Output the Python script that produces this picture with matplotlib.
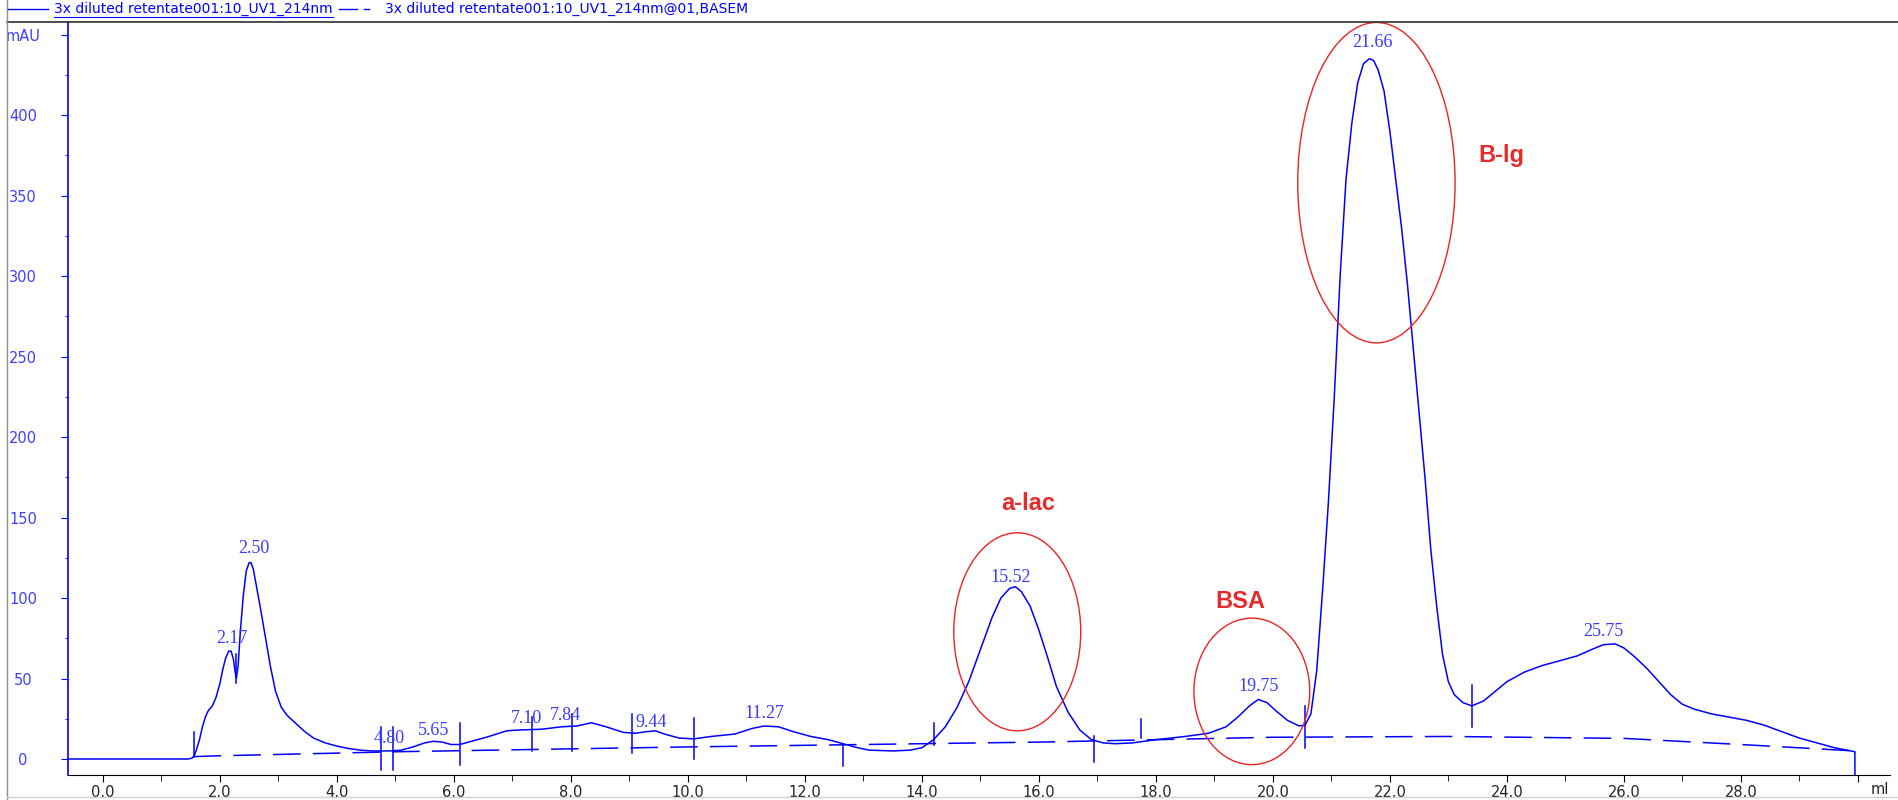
import matplotlib.pyplot as plt
from matplotlib.patches import Ellipse
from matplotlib.lines import Line2D

# UV 214 nm trace (ml, mAU)
volume = [-0.6, 1.45, 1.52, 1.56, 1.60, 1.65, 1.70, 1.75, 1.80, 1.87, 1.93, 2.00,
          2.05, 2.10, 2.15, 2.19, 2.23, 2.26, 2.28, 2.31, 2.35, 2.40, 2.45, 2.50,
          2.53, 2.57, 2.62, 2.70, 2.78, 2.86, 2.95, 3.05, 3.15, 3.30, 3.45, 3.60,
          3.80, 4.00, 4.20, 4.40, 4.60, 4.90, 5.10, 5.30, 5.50, 5.65, 5.80, 5.95,
          6.10, 6.30, 6.60, 6.90, 7.10, 7.50, 7.84, 8.10, 8.35, 8.60, 8.90, 9.10,
          9.30, 9.44, 9.60, 9.85, 10.1, 10.4, 10.8, 11.1, 11.3, 11.55, 11.8, 12.1,
          12.4, 12.7, 12.9, 13.1, 13.5, 13.8, 14.0, 14.2, 14.4, 14.6, 14.8, 15.0,
          15.2, 15.35, 15.5, 15.6, 15.7, 15.85, 16.0, 16.15, 16.3, 16.5, 16.7, 16.9,
          17.1, 17.3, 17.6, 18.0, 18.5, 18.9, 19.2, 19.4, 19.6, 19.75, 19.9, 20.05,
          20.25, 20.45, 20.55, 20.65, 20.75, 20.85, 20.95, 21.05, 21.15, 21.25, 21.35,
          21.45, 21.55, 21.65, 21.72, 21.8, 21.9, 22.0, 22.1, 22.2, 22.3, 22.4,
          22.5, 22.6, 22.7, 22.8, 22.9, 23.0, 23.1, 23.25, 23.4, 23.6, 23.8, 24.0,
          24.3, 24.6, 24.9, 25.2, 25.45, 25.65, 25.85, 26.0, 26.2, 26.4, 26.6, 26.8,
          27.0, 27.2, 27.5, 27.8, 28.1, 28.4, 28.7, 29.0, 29.3, 29.6, 29.95, 29.95]
absorb = [0, 0, 0.5, 2, 6, 12, 20, 26, 30, 33, 38, 47,
          56, 63, 67, 67, 62, 54, 50, 58, 80, 102, 117, 122,
          122, 118, 108, 92, 75, 58, 42, 32, 27, 22, 17, 13,
          10, 8, 6.5, 5.5, 5, 5, 5.5, 7.5, 10, 11, 10.5, 9,
          9, 11, 14, 17.5, 18, 18.5, 20, 20.5, 22.5, 20, 16.5, 16,
          17, 17.5, 15.5, 13, 12.5, 14, 15.5, 19, 20.5, 20, 17, 14,
          12, 9, 7, 5.5, 5, 5.5, 7, 12, 20, 32, 48, 68,
          88, 100, 106, 107, 104, 95, 80, 63, 45, 29, 18, 12,
          10, 9.5, 10, 12, 14, 16, 20, 26, 33, 37, 35, 30,
          24, 20.5, 21, 28, 55, 105, 160, 225, 300, 360, 395,
          420, 432, 435, 434, 428, 415, 390, 360, 330, 295, 255,
          215, 175, 130, 95, 65, 48, 40, 35, 33, 36, 42, 48,
          54, 58, 61, 64, 68, 71, 71.5, 69, 63, 56, 48, 40,
          34, 31, 28, 26, 24, 21, 17, 13, 10, 7, 4.5, -10]

# integration baseline (dashed)
base_vol = [1.55, 2.0, 5.0, 10.0, 16.0, 20.0, 23.0, 26.0, 28.0, 29.95]
base_abs = [1.5, 2, 4.5, 7.5, 10.5, 13.5, 14, 12.8, 9, 5]

# peak delimiter marks: (ml, low, high)
marks = [(1.55, 1.5, 16.5), (2.27, 47, 65), (4.75, -7, 20), (4.95, -7, 20),
         (6.10, -4, 22.5), (7.33, 5, 26), (8.02, 5, 28), (9.05, 4, 28),
         (10.1, 0, 25.5), (12.65, -4.5, 9), (14.2, 9, 22.5), (16.95, -2, 14),
         (17.75, 13, 25), (20.55, 7, 33), (23.4, 20, 46)]

# peak retention labels and where they sit
peak_text = ['2.17', '2.50', '4.80', '5.65', '7.10', '7.84', '9.44', '11.27',
             '15.52', '19.75', '21.66', '25.75']
peak_x = [2.21, 2.58, 4.90, 5.65, 7.24, 7.90, 9.37, 11.30, 15.52, 19.76, 21.70, 25.65]
peak_y = [75, 131, 13, 18, 25, 27, 22.5, 28, 113, 45, 445, 79]

# protein annotations
prot_names = ['a-lac', 'BSA', 'B-lg']
prot_x = [15.81, 19.45, 23.9]
prot_y = [159, 98, 375]
ell_cx = [15.63, 19.64, 21.77]
ell_cy = [79, 42, 358]
ell_w = [2.17, 1.98, 2.69]
ell_h = [123, 91, 199]

W, H = 1898, 800
fig = plt.figure(figsize=(W / 100, H / 100), dpi=100)
ax = fig.add_axes([68 / W, 25 / H, 1822 / W, 753 / H])

blue = '#0000ff'
ax.plot(volume, absorb, color=blue, lw=1.1)
ax.plot(base_vol, base_abs, color=blue, lw=1.1, linestyle=(0, (18, 8)))
for mx, lo, hi in marks:
    ax.plot([mx, mx], [lo, hi], color=blue, lw=1.1)

for t, px, py in zip(peak_text, peak_x, peak_y):
    ax.text(px, py, t, ha='center', va='center', color='#3a3aff',
            fontsize=13, family='Liberation Serif')

for name, tx, ty in zip(prot_names, prot_x, prot_y):
    ax.text(tx, ty, name, ha='center', va='center', color='#e52b2b',
            fontsize=17, fontweight='bold', family='Liberation Sans')
for cx, cy, ew, eh in zip(ell_cx, ell_cy, ell_w, ell_h):
    ax.add_patch(Ellipse((cx, cy), ew, eh, fill=False, edgecolor='#ee2222',
                         lw=1.0, zorder=5))

ax.set_xlim(-0.598, 30.55)
ax.set_ylim(-9.94, 457.8)

xt = [0, 2, 4, 6, 8, 10, 12, 14, 16, 18, 20, 22, 24, 26, 28, 30]
ax.set_xticks(xt)
ax.set_xticklabels([f'{v:.1f}' for v in xt[:-1]] + [''])
ax.set_xticks(range(1, 30, 2), minor=True)
ax.tick_params(axis='x', which='major', length=5, color='black', labelsize=10.5,
               labelcolor='#222222', pad=2, direction='out')
ax.tick_params(axis='x', which='minor', length=4, color='black')

yt = [0, 50, 100, 150, 200, 250, 300, 350, 400, 450]
ax.set_yticks(yt)
ax.set_yticklabels([str(v) for v in yt[:-1]] + ['mAU'])
ax.set_yticks([25 + 50 * i for i in range(9)], minor=True)
ax.tick_params(axis='y', which='major', length=5, color=blue, labelsize=10.5,
               labelcolor='#4040ff', pad=0)
ax.tick_params(axis='y', which='minor', length=2, color=blue)
for lab in ax.get_yticklabels():
    lab.set_horizontalalignment('center')
    lab.set_x(-(68 - 30) / 1822)

ax.spines['left'].set_color(blue)
ax.spines['left'].set_linewidth(1.2)
ax.spines['bottom'].set_color('black')
ax.spines['top'].set_visible(False)
ax.spines['right'].set_visible(False)

fig.text(1880 / W, 1 - 790 / H, 'ml', ha='center', va='center',
         fontsize=10.5, color='#222222')

# window frame and trace legend
fig.add_artist(Line2D([7 / W, 1], [1 - 22 / H] * 2, color='#303030', lw=1.2))
fig.add_artist(Line2D([7 / W, 7 / W], [0, 1], color='#909090', lw=1.0))
fig.add_artist(Line2D([7 / W, 1], [3 / H] * 2, color='#d0d0d0', lw=1.0))
ly = 1 - 9 / H
fig.add_artist(Line2D([8 / W, 48 / W], [ly, ly], color=blue, lw=1.0))
fig.text(54 / W, ly, '3x diluted retentate001:10_UV1_214nm', color=blue,
         fontsize=10, va='center', ha='left')
fig.add_artist(Line2D([54 / W, 333 / W], [1 - 17 / H] * 2, color=blue, lw=0.8))
fig.add_artist(Line2D([339 / W, 357 / W], [ly, ly], color=blue, lw=1.0))
fig.add_artist(Line2D([364 / W, 369 / W], [ly, ly], color=blue, lw=1.0))
fig.text(385 / W, ly, '3x diluted retentate001:10_UV1_214nm@01,BASEM',
         color=blue, fontsize=10, va='center', ha='left')

plt.savefig('out.png', dpi=100)
